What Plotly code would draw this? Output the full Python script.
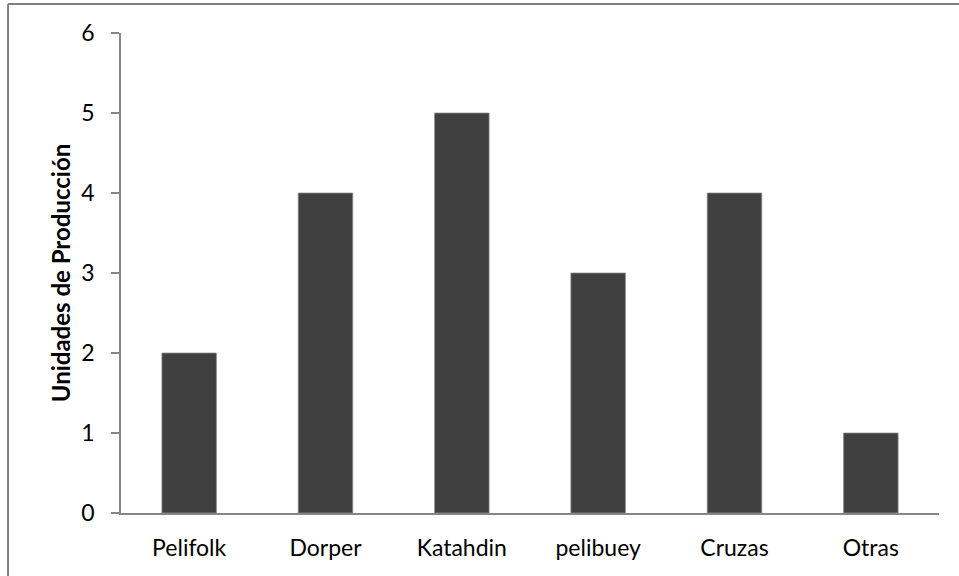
import plotly.graph_objects as go

# Breeds and number of production units for each
categorias = ["Pelifolk", "Dorper", "Katahdin", "pelibuey", "Cruzas", "Otras"]
unidades = [2, 4, 5, 3, 4, 1]
ticks_y = [0, 1, 2, 3, 4, 5, 6]

FONT = "Lato"
GRIS_EJE = "#868686"

fig = go.Figure(
    go.Bar(
        x=categorias,
        y=unidades,
        marker=dict(color="#404040", line=dict(color="#8c8c8c", width=0.75)),
        width=0.4,
    )
)

fig.update_layout(
    width=959,
    height=576,
    margin=dict(l=121, r=20, t=33, b=63),
    paper_bgcolor="white",
    plot_bgcolor="white",
    showlegend=False,
    font=dict(family=FONT, size=23, color="#000000"),
    shapes=[
        # outer frame of the chart (top and left edges)
        dict(type="line", xref="paper", yref="paper",
             x0=-0.1381, x1=1.03, y0=1.0604, y1=1.0604,
             line=dict(color="#808080", width=2)),
        dict(type="line", xref="paper", yref="paper",
             x0=-0.1381, x1=-0.1381, y0=1.0604, y1=-0.14,
             line=dict(color="#808080", width=2)),
    ],
)

fig.update_xaxes(
    showline=True,
    linecolor=GRIS_EJE,
    linewidth=1.5,
    ticks="",
    showgrid=False,
    ticklabelstandoff=14,
    tickfont=dict(family=FONT, size=23),
)

fig.update_yaxes(
    range=[0, 6],
    tickvals=ticks_y,
    showline=True,
    linecolor=GRIS_EJE,
    linewidth=1.5,
    ticks="outside",
    ticklen=8,
    tickcolor=GRIS_EJE,
    tickwidth=1.5,
    showgrid=False,
    zeroline=False,
    ticklabelstandoff=12,
    tickfont=dict(family=FONT, size=23),
    title=dict(
        text="<b>Unidades de Producción</b>",
        font=dict(family=FONT, size=24),
        standoff=4,
    ),
)

fig.write_html("out.html")
